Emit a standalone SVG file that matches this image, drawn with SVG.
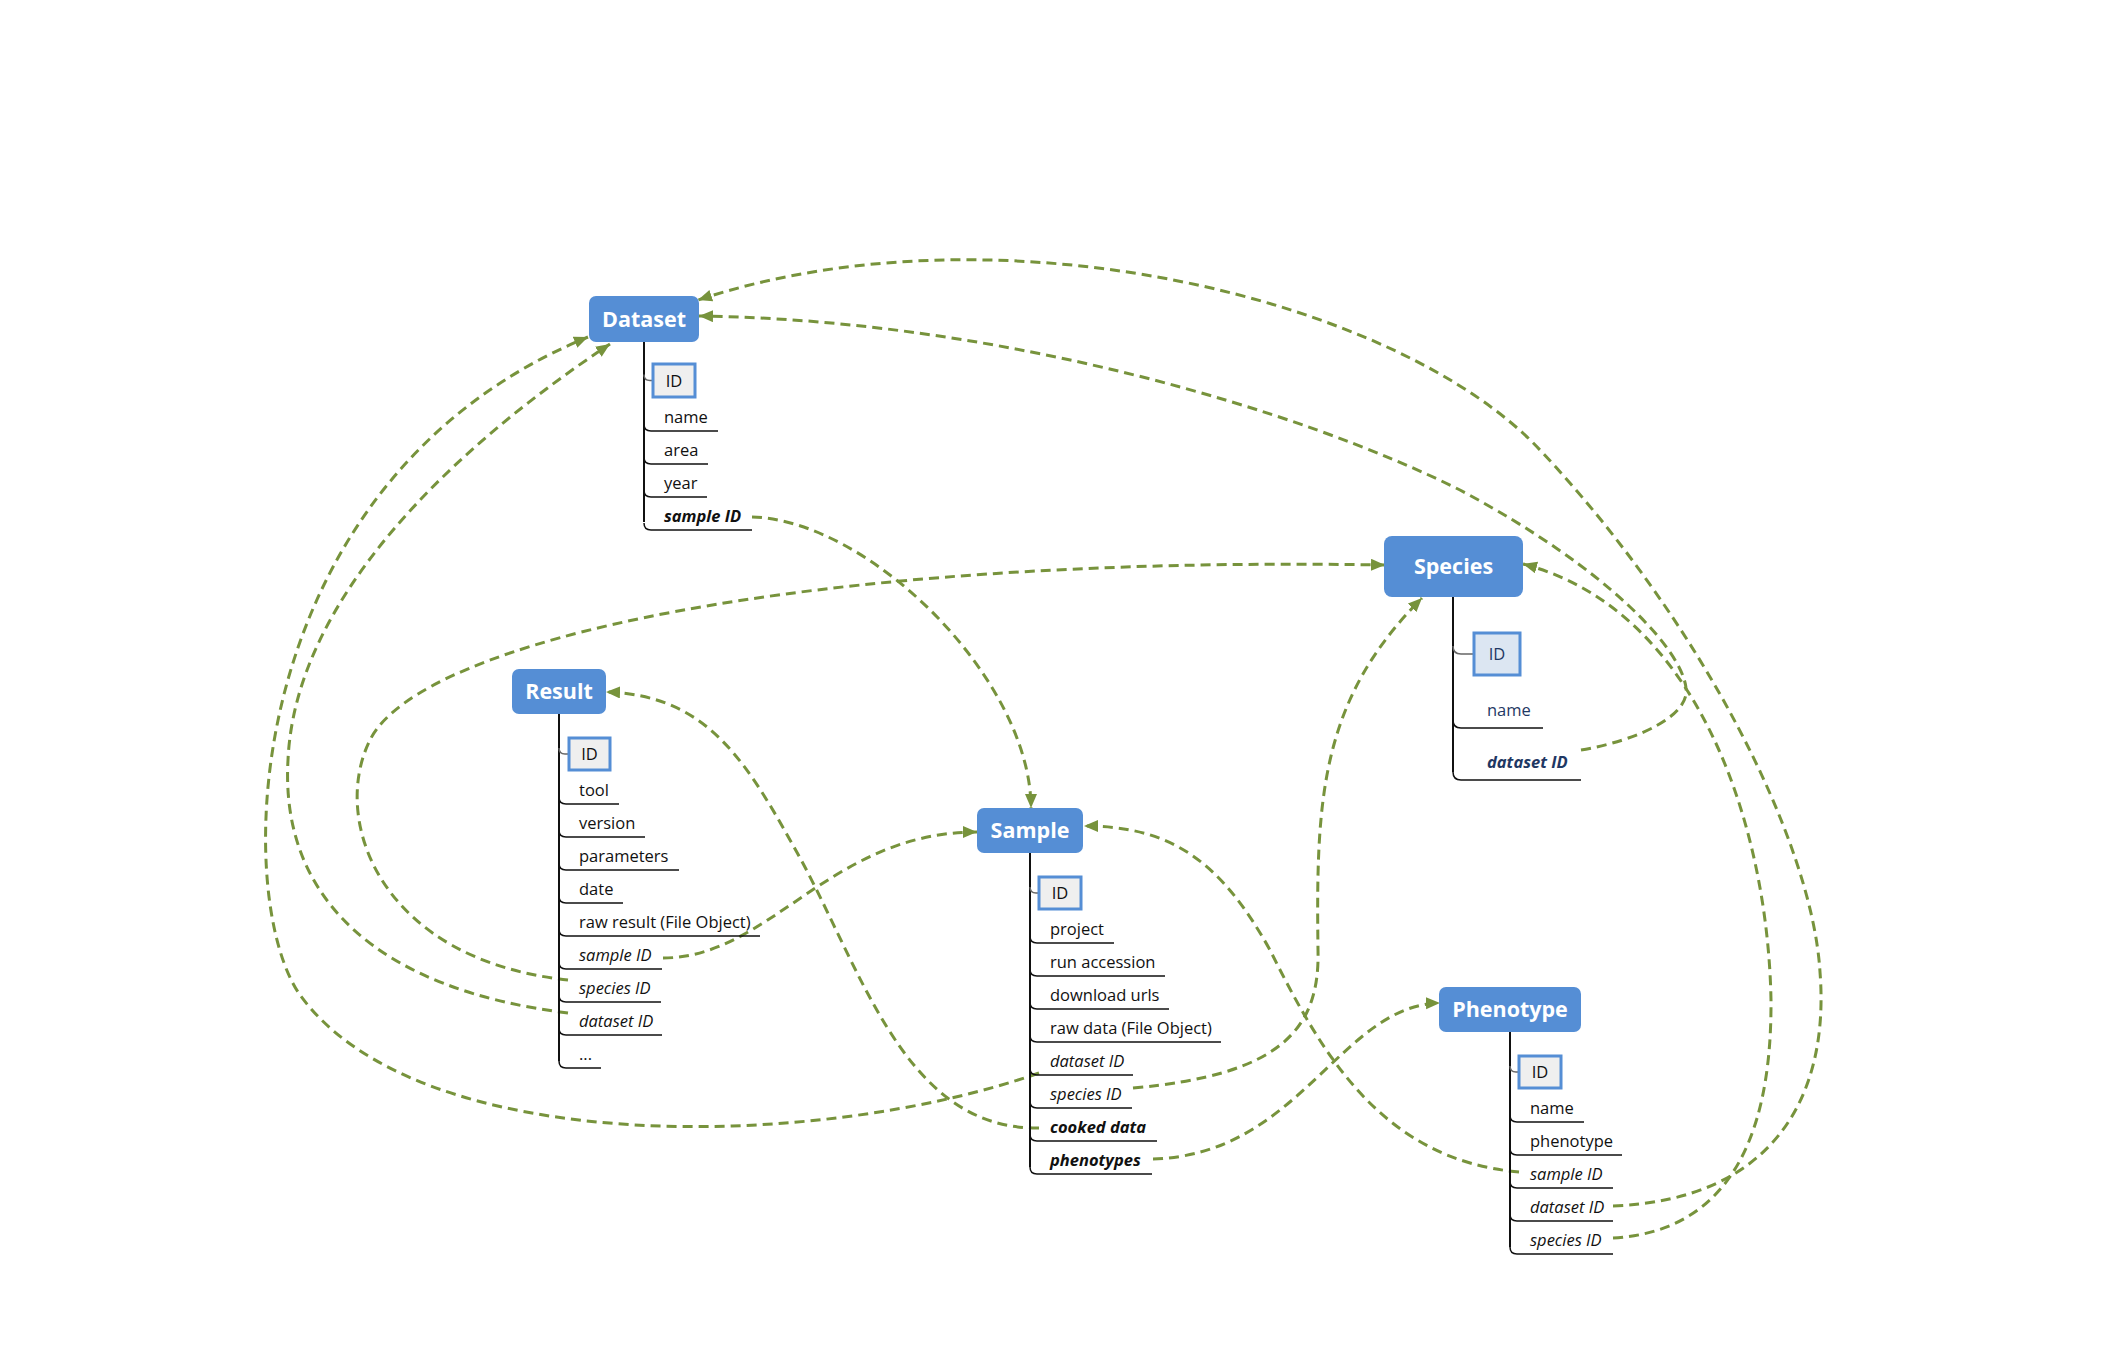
<svg xmlns="http://www.w3.org/2000/svg" width="2128" height="1362" viewBox="0 0 2128 1362">
<style>
.bg{fill:#ffffff}
.title{fill:#558ED5}
.tt{font-family:"Open Sans","Noto Sans",sans-serif;font-weight:bold;font-size:21.5px;fill:#ffffff;text-anchor:middle}
.idb{fill:#EFEFEF;stroke:#558ED5;stroke-width:3}
.idb2{fill:#DCE6F2;stroke:#558ED5;stroke-width:3}
.it{font-family:"Open Sans","Noto Sans",sans-serif;font-size:16.5px;fill:#111111}
.nv{fill:#1F3864}
.i{font-style:italic}
.bi{font-style:italic;font-weight:bold}
.c{text-anchor:middle}
.trunk{stroke:#111111;stroke-width:2;fill:none}
.ul{stroke:#111111;stroke-width:1.5;fill:none}
.idc{stroke:#666666;stroke-width:1.5;fill:none}
.cn{stroke:#77933C;stroke-width:3;stroke-dasharray:10 6;fill:none;marker-end:url(#ah)}
</style>
<defs>
<marker id="ah" markerUnits="userSpaceOnUse" markerWidth="16" markerHeight="14" refX="14" refY="6" orient="auto">
<path d="M0,0 L14,6 L0,12 z" fill="#77933C"/>
</marker>
</defs>
<rect class="bg" x="0" y="0" width="2128" height="1362"/>

<g id="connectors">
<path class="cn" d="M752 517 C870 520 1031 680 1031 808"/>
<path class="cn" d="M663 958 C770 958 830 832 977 832"/>
<path class="cn" d="M568 980 C380 960 330 820 370 740 C420 640 800 555 1385 565"/>
<path class="cn" d="M568 1013 C380 990 280 900 288 760 C295 600 450 450 610 344"/>
<path class="cn" d="M1039 1073 C820 1150 420 1160 300 995 C230 895 240 480 588 337"/>
<path class="cn" d="M1133 1088 C1280 1075 1320 1030 1318 950 C1316 800 1320 700 1422 598"/>
<path class="cn" d="M1039 1128 C900 1130 860 960 790 840 C740 750 700 695 606 692"/>
<path class="cn" d="M1153 1159 C1300 1155 1340 1005 1440 1003"/>
<path class="cn" d="M1519 1172 C1380 1160 1320 1050 1270 950 C1220 860 1170 826 1084 826"/>
<path class="cn" d="M1613 1206 C1770 1200 1830 1100 1820 972 C1812 840 1700 620 1540 450 C1400 300 1000 200 698 300"/>
<path class="cn" d="M1613 1238 C1720 1232 1772 1150 1771 1000 C1768 830 1700 610 1523 564"/>
<path class="cn" d="M1581 750 C1640 740 1690 715 1686 688 C1682 650 1610 570 1460 490 C1300 410 1000 320 699 316"/>
</g>

<g id="dataset">
<rect class="title" x="589" y="296" width="110" height="46" rx="7"/>
<text class="tt" x="644" y="327">Dataset</text>
<line class="trunk" x1="644" y1="342" x2="644" y2="522"/>
<path class="idc" d="M644 374.5 Q644 380.5 650 380.5 H653"/>
<rect class="idb" x="653" y="364" width="42" height="33"/>
<text class="it c" x="674" y="387">ID</text>
<path class="ul" d="M644 424 Q644 431 651 431 H718"/>
<text class="it" x="664" y="423">name</text>
<path class="ul" d="M644 457 Q644 464 651 464 H708"/>
<text class="it" x="664" y="456">area</text>
<path class="ul" d="M644 490 Q644 497 651 497 H707"/>
<text class="it" x="664" y="489">year</text>
<path class="ul" d="M644 523 Q644 530 651 530 H752"/>
<text class="it bi" x="664" y="522">sample ID</text>
</g>

<g id="result">
<rect class="title" x="512" y="669" width="94" height="45" rx="7"/>
<text class="tt" x="559" y="699">Result</text>
<line class="trunk" x1="559" y1="714" x2="559" y2="1061"/>
<path class="idc" d="M559 748 Q559 754 565 754 H569"/>
<rect class="idb" x="569" y="738" width="41" height="32"/>
<text class="it c" x="589.5" y="760">ID</text>
<path class="ul" d="M559 797 Q559 804 566 804 H619"/>
<text class="it" x="579" y="796">tool</text>
<path class="ul" d="M559 830 Q559 837 566 837 H645"/>
<text class="it" x="579" y="829">version</text>
<path class="ul" d="M559 863 Q559 870 566 870 H679"/>
<text class="it" x="579" y="862">parameters</text>
<path class="ul" d="M559 896 Q559 903 566 903 H623"/>
<text class="it" x="579" y="895">date</text>
<path class="ul" d="M559 929 Q559 936 566 936 H760"/>
<text class="it" x="579" y="928">raw result (File Object)</text>
<path class="ul" d="M559 962 Q559 969 566 969 H662"/>
<text class="it i" x="579" y="961">sample ID</text>
<path class="ul" d="M559 995 Q559 1002 566 1002 H661"/>
<text class="it i" x="579" y="994">species ID</text>
<path class="ul" d="M559 1028 Q559 1035 566 1035 H662"/>
<text class="it i" x="579" y="1027">dataset ID</text>
<path class="ul" d="M559 1061 Q559 1068 566 1068 H601"/>
<text class="it" x="579" y="1060">...</text>
</g>

<g id="sample">
<rect class="title" x="977" y="808" width="106" height="45" rx="7"/>
<text class="tt" x="1030" y="838">Sample</text>
<line class="trunk" x1="1030" y1="853" x2="1030" y2="1167"/>
<path class="idc" d="M1030 887 Q1030 893 1036 893 H1039"/>
<rect class="idb" x="1039" y="877" width="42" height="32"/>
<text class="it c" x="1060" y="899">ID</text>
<path class="ul" d="M1030 936 Q1030 943 1037 943 H1114"/>
<text class="it" x="1050" y="935">project</text>
<path class="ul" d="M1030 969 Q1030 976 1037 976 H1165"/>
<text class="it" x="1050" y="968">run accession</text>
<path class="ul" d="M1030 1002 Q1030 1009 1037 1009 H1169"/>
<text class="it" x="1050" y="1001">download urls</text>
<path class="ul" d="M1030 1035 Q1030 1042 1037 1042 H1221"/>
<text class="it" x="1050" y="1034">raw data (File Object)</text>
<path class="ul" d="M1030 1068 Q1030 1075 1037 1075 H1133"/>
<text class="it i" x="1050" y="1067">dataset ID</text>
<path class="ul" d="M1030 1101 Q1030 1108 1037 1108 H1132"/>
<text class="it i" x="1050" y="1100">species ID</text>
<path class="ul" d="M1030 1134 Q1030 1141 1037 1141 H1157"/>
<text class="it bi" x="1050" y="1133">cooked data</text>
<path class="ul" d="M1030 1167 Q1030 1174 1037 1174 H1152"/>
<text class="it bi" x="1050" y="1166">phenotypes</text>
</g>

<g id="species">
<rect class="title" x="1384" y="536" width="139" height="61" rx="8"/>
<text class="tt" x="1453.5" y="574">Species</text>
<line class="trunk" x1="1453" y1="597" x2="1453" y2="772"/>
<path class="idc" d="M1453 646 Q1453 654 1461 654 H1474"/>
<rect class="idb2" x="1474" y="633" width="46" height="42"/>
<text class="it nv c" x="1497" y="660">ID</text>
<path class="ul" d="M1453 720 Q1453 728 1461 728 H1543"/>
<text class="it nv" x="1487" y="716">name</text>
<path class="ul" d="M1453 772 Q1453 780 1461 780 H1581"/>
<text class="it nv bi" x="1487" y="768">dataset ID</text>
</g>

<g id="phenotype">
<rect class="title" x="1439" y="987" width="142" height="45" rx="7"/>
<text class="tt" x="1510" y="1017">Phenotype</text>
<line class="trunk" x1="1510" y1="1032" x2="1510" y2="1247"/>
<path class="idc" d="M1510 1066 Q1510 1072 1516 1072 H1519"/>
<rect class="idb" x="1519" y="1056" width="42" height="32"/>
<text class="it c" x="1540" y="1078">ID</text>
<path class="ul" d="M1510 1115 Q1510 1122 1517 1122 H1584"/>
<text class="it" x="1530" y="1114">name</text>
<path class="ul" d="M1510 1148 Q1510 1155 1517 1155 H1622"/>
<text class="it" x="1530" y="1147">phenotype</text>
<path class="ul" d="M1510 1181 Q1510 1188 1517 1188 H1613"/>
<text class="it i" x="1530" y="1180">sample ID</text>
<path class="ul" d="M1510 1214 Q1510 1221 1517 1221 H1613"/>
<text class="it i" x="1530" y="1213">dataset ID</text>
<path class="ul" d="M1510 1247 Q1510 1254 1517 1254 H1613"/>
<text class="it i" x="1530" y="1246">species ID</text>
</g>
</svg>
